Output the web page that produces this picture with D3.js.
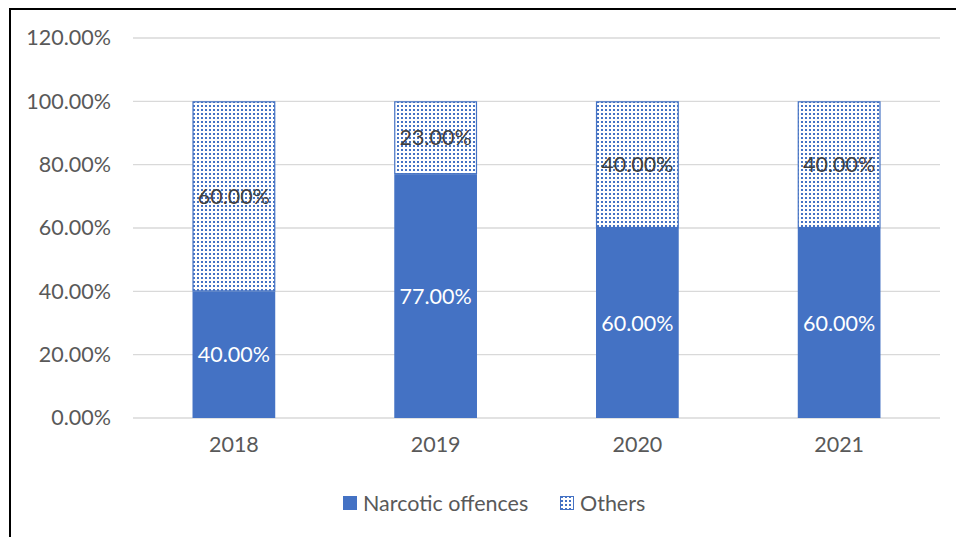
<!DOCTYPE html>
<html>
<head>
<meta charset="utf-8">
<script src="https://cdn.jsdelivr.net/npm/d3@7"></script>
<style>
  html, body { margin: 0; padding: 0; background: #fff; }
  svg { display: block; }
</style>
</head>
<body>
<svg id="chart" width="956" height="537"></svg>
<script>
// chart values
const years = ['2018', '2019', '2020', '2021'];
const narcotic = [40, 77, 60, 60];
const others = [60, 23, 40, 40];
const yTicks = [0, 20, 40, 60, 80, 100, 120];
const seriesNames = ['Narcotic offences', 'Others'];

const blue = '#4472C4';
const textGrey = '#595959';
const font = 'Lato, Calibri, Carlito, sans-serif';
const fontSize = '21.5px';

const svg = d3.select('#chart');

// pattern for "Others"
const defs = svg.append('defs');
const pat = defs.append('pattern')
  .attr('id', 'dots')
  .attr('patternUnits', 'userSpaceOnUse')
  .attr('width', 4).attr('height', 4);
pat.append('rect').attr('width', 4).attr('height', 4).attr('fill', '#fff');
pat.append('rect').attr('x', 1).attr('y', 1).attr('width', 2).attr('height', 2).attr('fill', blue);

// outer frame (left and top edges visible)
svg.append('rect')
  .attr('x', 10).attr('y', 9)
  .attr('width', 960).attr('height', 560)
  .attr('fill', 'none')
  .attr('stroke', '#000')
  .attr('stroke-width', 2);

const plot = { left: 133, right: 940, top: 38, bottom: 418 };

const x = d3.scaleBand()
  .domain(years)
  .range([plot.left, plot.right])
  .paddingInner(0.59)
  .paddingOuter(0.295);

const y = d3.scaleLinear()
  .domain([0, 120])
  .range([plot.bottom, plot.top]);

// gridlines
svg.append('g')
  .selectAll('line')
  .data(yTicks)
  .join('line')
  .attr('x1', plot.left).attr('x2', plot.right)
  .attr('y1', d => y(d)).attr('y2', d => y(d))
  .attr('stroke', '#d9d9d9')
  .attr('stroke-width', 1.3);

// y axis labels
const yAxis = svg.append('g')
  .attr('transform', `translate(${plot.left - 22},0)`)
  .call(d3.axisLeft(y).tickValues(yTicks).tickFormat(d => d.toFixed(2) + '%').tickSize(0).tickPadding(0));
yAxis.select('.domain').remove();
yAxis.selectAll('text')
  .attr('fill', textGrey)
  .style('font-family', font)
  .style('font-size', fontSize);

// x axis labels
const xAxis = svg.append('g')
  .attr('transform', `translate(0,${plot.bottom + 19})`)
  .call(d3.axisBottom(x).tickSize(0).tickPadding(0));
xAxis.select('.domain').remove();
xAxis.selectAll('text')
  .attr('fill', textGrey)
  .attr('dy', '0.71em')
  .style('font-family', font)
  .style('font-size', fontSize);

const rows = years.map((yr, i) => ({ year: yr, narcotic: narcotic[i], others: others[i] }));
const stack = d3.stack().keys(['narcotic', 'others'])(rows);

const bars = svg.append('g');
stack.forEach(layer => {
  const isOthers = layer.key === 'others';
  bars.append('g')
    .selectAll('rect')
    .data(layer)
    .join('rect')
    .attr('x', d => x(d.data.year) + (isOthers ? 0.5 : 0))
    .attr('y', d => y(d[1]) + (isOthers ? 0.5 : 0))
    .attr('width', d => x.bandwidth() - (isOthers ? 1 : 0))
    .attr('height', d => y(d[0]) - y(d[1]) - (isOthers ? 1 : 0))
    .attr('fill', isOthers ? 'url(#dots)' : blue)
    .attr('stroke', isOthers ? blue : 'none')
    .attr('stroke-width', 1.2);

  bars.append('g')
    .selectAll('text')
    .data(layer)
    .join('text')
    .attr('x', d => x(d.data.year) + x.bandwidth() / 2)
    .attr('y', d => (y(d[0]) + y(d[1])) / 2)
    .attr('dy', '0.35em')
    .attr('text-anchor', 'middle')
    .attr('fill', isOthers ? '#404040' : '#fff')
    .style('font-family', font)
    .style('font-size', fontSize)
    .text(d => (d[1] - d[0]).toFixed(2) + '%');
});

// legend
const legend = svg.append('g').attr('transform', 'translate(343,503)');
const legendX = [0, 217];
seriesNames.forEach((name, i) => {
  const g = legend.append('g').attr('transform', `translate(${legendX[i]},0)`);
  g.append('rect')
    .attr('x', 0.5).attr('y', -6.5)
    .attr('width', 13).attr('height', 13)
    .attr('fill', i === 0 ? blue : 'url(#dots)')
    .attr('stroke', blue);
  g.append('text')
    .attr('x', 20).attr('y', 0)
    .attr('dy', '0.35em')
    .attr('fill', textGrey)
    .style('font-family', font)
    .style('font-size', fontSize)
    .text(name);
});
</script>
</body>
</html>
